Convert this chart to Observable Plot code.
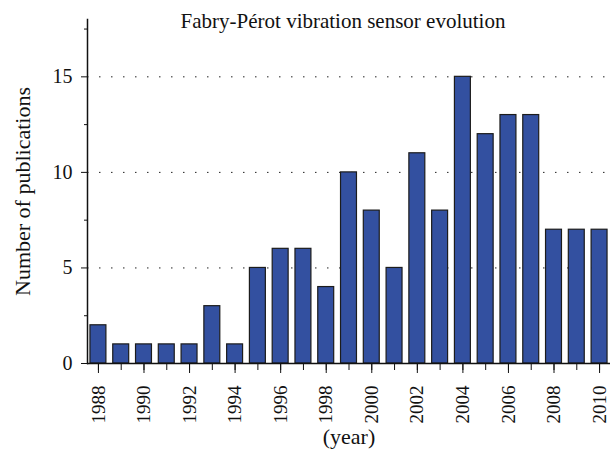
<!DOCTYPE html>
<html>
<head>
<meta charset="utf-8">
<script src="https://cdn.jsdelivr.net/npm/d3@7"></script>
<script src="https://cdn.jsdelivr.net/npm/@observablehq/plot@0.6"></script>
<style>
  html, body { margin: 0; padding: 0; background: #fff; }
</style>
</head>
<body>
<div id="chart"></div>
<script>
const titleText = "Fabry-Pérot vibration sensor evolution";
const yLabel = "Number of publications";
const xLabel = "(year)";
const years = [1988, 1989, 1990, 1991, 1992, 1993, 1994, 1995, 1996, 1997, 1998, 1999, 2000, 2001, 2002, 2003, 2004, 2005, 2006, 2007, 2008, 2009, 2010];
const publications = [2, 1, 1, 1, 1, 3, 1, 5, 6, 6, 4, 10, 8, 5, 11, 8, 15, 12, 13, 13, 7, 7, 7];
const yMajorTicks = [0, 5, 10, 15];
const yMinorTicks = [2.5, 7.5, 12.5, 17.5];
const gridValues = [5, 10, 15];
const xLabelTicks = years.filter(y => y % 2 === 0);

const data = years.map((y, i) => ({year: y, value: publications[i]}));

const chart = Plot.plot({
  width: 615,
  height: 458,
  marginLeft: 87,
  marginRight: 5,
  marginTop: 19,
  marginBottom: 95,
  style: {fontFamily: "'Liberation Serif', 'DejaVu Serif', serif", fontSize: "19px", color: "#111", background: "#fff"},
  x: {type: "band", domain: years, padding: 0.3, paddingOuter: 0.13, round: false, axis: null},
  y: {domain: [0, 18], axis: null},
  marks: [
    Plot.gridY(gridValues, {stroke: "#222", strokeOpacity: 1, strokeWidth: 1, strokeDasharray: "1.5,10.5"}),
    Plot.barY(data, {x: "year", y: "value", fill: "#3350a0", stroke: "#1c1c1c", strokeWidth: 1.2}),
    Plot.axisY(yMajorTicks, {tickSize: 6, tickPadding: 9, fontSize: 20, stroke: "#111", label: null}),
    Plot.axisY(yMinorTicks, {tickSize: 3, text: null, stroke: "#111", label: null}),
    Plot.axisX(years, {tickSize: 7, text: null, stroke: "#111", label: null}),
    Plot.axisX(xLabelTicks, {tickSize: 10, tickPadding: 12, tickRotate: -90, fontSize: 19, stroke: "#111", label: null, tickFormat: d => String(d)}),
    Plot.ruleY([0], {stroke: "#111", strokeWidth: 1.5}),
    Plot.frame({anchor: "left", stroke: "#111", strokeWidth: 1.5}),
    Plot.text([titleText], {frameAnchor: "top", dy: -6, dx: -6, fontSize: 21}),
    Plot.text([yLabel], {frameAnchor: "left", textAnchor: "middle", rotate: -90, dx: -65, fontSize: 22}),
    Plot.text([xLabel], {frameAnchor: "bottom", dy: 80, fontSize: 22})
  ]
});
document.getElementById("chart").appendChild(chart);
</script>
</body>
</html>
